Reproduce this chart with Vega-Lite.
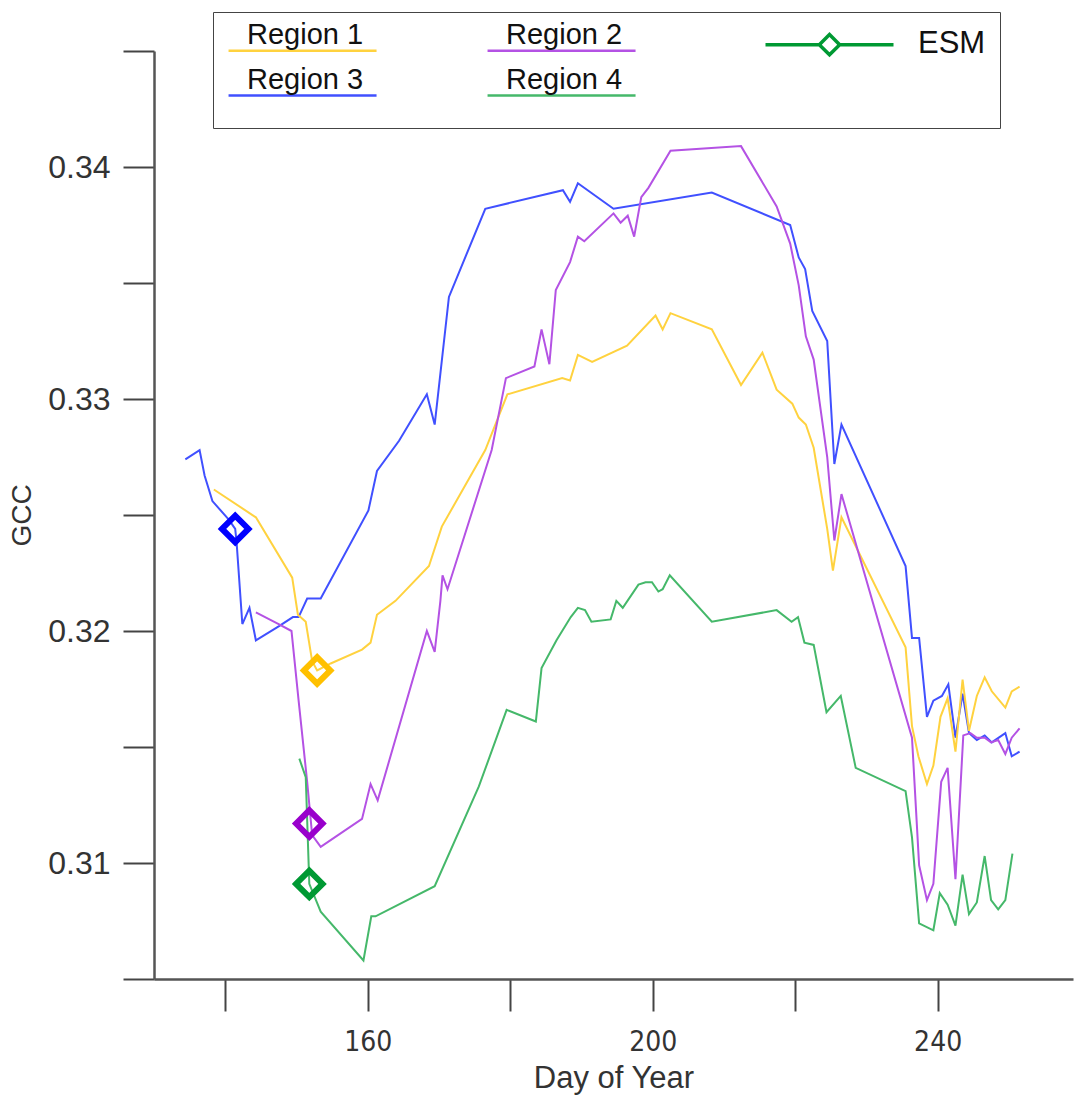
{
  "$schema": "https://vega.github.io/schema/vega-lite/v6.json",
  "width": 919,
  "height": 928,
  "autosize": "none",
  "padding": {"left": 154, "top": 51, "right": 1, "bottom": 116},
  "background": "white",
  "config": {"view": {"stroke": null}, "font": "Liberation Sans"},
  "datasets": {
    "lines": [
      {"region": "Region 3", "day": 134.4, "gcc": 0.3274},
      {"region": "Region 3", "day": 136.4, "gcc": 0.3278},
      {"region": "Region 3", "day": 137.1, "gcc": 0.3267},
      {"region": "Region 3", "day": 138.2, "gcc": 0.3256},
      {"region": "Region 3", "day": 140.5, "gcc": 0.3248},
      {"region": "Region 3", "day": 141.4, "gcc": 0.3244},
      {"region": "Region 3", "day": 141.6, "gcc": 0.3238},
      {"region": "Region 3", "day": 142.4, "gcc": 0.3203},
      {"region": "Region 3", "day": 143.4, "gcc": 0.3210},
      {"region": "Region 3", "day": 144.3, "gcc": 0.3196},
      {"region": "Region 3", "day": 147.5, "gcc": 0.3202},
      {"region": "Region 3", "day": 149.5, "gcc": 0.3206},
      {"region": "Region 3", "day": 150.3, "gcc": 0.3206},
      {"region": "Region 3", "day": 151.5, "gcc": 0.3214},
      {"region": "Region 3", "day": 153.4, "gcc": 0.3214},
      {"region": "Region 3", "day": 160.1, "gcc": 0.3252},
      {"region": "Region 3", "day": 161.3, "gcc": 0.3269},
      {"region": "Region 3", "day": 164.4, "gcc": 0.3282},
      {"region": "Region 3", "day": 168.3, "gcc": 0.3302},
      {"region": "Region 3", "day": 169.4, "gcc": 0.3289},
      {"region": "Region 3", "day": 171.4, "gcc": 0.3344},
      {"region": "Region 3", "day": 176.5, "gcc": 0.3382},
      {"region": "Region 3", "day": 187.4, "gcc": 0.3390},
      {"region": "Region 3", "day": 188.4, "gcc": 0.3385},
      {"region": "Region 3", "day": 189.5, "gcc": 0.3393},
      {"region": "Region 3", "day": 194.5, "gcc": 0.3382},
      {"region": "Region 3", "day": 208.3, "gcc": 0.3389},
      {"region": "Region 3", "day": 219.3, "gcc": 0.3375},
      {"region": "Region 3", "day": 220.5, "gcc": 0.3361},
      {"region": "Region 3", "day": 221.4, "gcc": 0.3356},
      {"region": "Region 3", "day": 222.4, "gcc": 0.3338},
      {"region": "Region 3", "day": 224.5, "gcc": 0.3325},
      {"region": "Region 3", "day": 225.5, "gcc": 0.3272},
      {"region": "Region 3", "day": 226.5, "gcc": 0.3289},
      {"region": "Region 3", "day": 235.5, "gcc": 0.3228},
      {"region": "Region 3", "day": 236.4, "gcc": 0.3197},
      {"region": "Region 3", "day": 237.4, "gcc": 0.3197},
      {"region": "Region 3", "day": 238.5, "gcc": 0.3163},
      {"region": "Region 3", "day": 239.4, "gcc": 0.3170},
      {"region": "Region 3", "day": 240.6, "gcc": 0.3172},
      {"region": "Region 3", "day": 241.5, "gcc": 0.3177},
      {"region": "Region 3", "day": 242.5, "gcc": 0.3154},
      {"region": "Region 3", "day": 243.5, "gcc": 0.3173},
      {"region": "Region 3", "day": 244.4, "gcc": 0.3156},
      {"region": "Region 3", "day": 245.5, "gcc": 0.3153},
      {"region": "Region 3", "day": 246.6, "gcc": 0.3155},
      {"region": "Region 3", "day": 247.6, "gcc": 0.3152},
      {"region": "Region 3", "day": 249.5, "gcc": 0.3156},
      {"region": "Region 3", "day": 250.4, "gcc": 0.3146},
      {"region": "Region 3", "day": 251.5, "gcc": 0.3148},
      {"region": "Region 1", "day": 138.4, "gcc": 0.3261},
      {"region": "Region 1", "day": 144.3, "gcc": 0.3249},
      {"region": "Region 1", "day": 149.4, "gcc": 0.3223},
      {"region": "Region 1", "day": 150.2, "gcc": 0.3207},
      {"region": "Region 1", "day": 151.3, "gcc": 0.3204},
      {"region": "Region 1", "day": 152.2, "gcc": 0.3187},
      {"region": "Region 1", "day": 152.9, "gcc": 0.3183},
      {"region": "Region 1", "day": 154.8, "gcc": 0.3186},
      {"region": "Region 1", "day": 159.2, "gcc": 0.3192},
      {"region": "Region 1", "day": 160.4, "gcc": 0.3195},
      {"region": "Region 1", "day": 161.3, "gcc": 0.3207},
      {"region": "Region 1", "day": 163.9, "gcc": 0.3213},
      {"region": "Region 1", "day": 168.6, "gcc": 0.3228},
      {"region": "Region 1", "day": 170.4, "gcc": 0.3245},
      {"region": "Region 1", "day": 176.5, "gcc": 0.3278},
      {"region": "Region 1", "day": 179.6, "gcc": 0.3302},
      {"region": "Region 1", "day": 187.3, "gcc": 0.3309},
      {"region": "Region 1", "day": 188.4, "gcc": 0.3308},
      {"region": "Region 1", "day": 189.5, "gcc": 0.3319},
      {"region": "Region 1", "day": 191.5, "gcc": 0.3316},
      {"region": "Region 1", "day": 196.4, "gcc": 0.3323},
      {"region": "Region 1", "day": 200.4, "gcc": 0.3336},
      {"region": "Region 1", "day": 201.4, "gcc": 0.3330},
      {"region": "Region 1", "day": 202.5, "gcc": 0.3337},
      {"region": "Region 1", "day": 208.3, "gcc": 0.3330},
      {"region": "Region 1", "day": 212.4, "gcc": 0.3306},
      {"region": "Region 1", "day": 215.4, "gcc": 0.3320},
      {"region": "Region 1", "day": 217.4, "gcc": 0.3304},
      {"region": "Region 1", "day": 219.6, "gcc": 0.3298},
      {"region": "Region 1", "day": 220.5, "gcc": 0.3292},
      {"region": "Region 1", "day": 221.5, "gcc": 0.3289},
      {"region": "Region 1", "day": 222.6, "gcc": 0.3279},
      {"region": "Region 1", "day": 224.5, "gcc": 0.3244},
      {"region": "Region 1", "day": 225.3, "gcc": 0.3226},
      {"region": "Region 1", "day": 226.5, "gcc": 0.3249},
      {"region": "Region 1", "day": 235.5, "gcc": 0.3193},
      {"region": "Region 1", "day": 236.4, "gcc": 0.3159},
      {"region": "Region 1", "day": 237.3, "gcc": 0.3146},
      {"region": "Region 1", "day": 238.5, "gcc": 0.3134},
      {"region": "Region 1", "day": 239.4, "gcc": 0.3142},
      {"region": "Region 1", "day": 240.4, "gcc": 0.3163},
      {"region": "Region 1", "day": 241.4, "gcc": 0.3171},
      {"region": "Region 1", "day": 242.5, "gcc": 0.3148},
      {"region": "Region 1", "day": 243.5, "gcc": 0.3179},
      {"region": "Region 1", "day": 244.4, "gcc": 0.3157},
      {"region": "Region 1", "day": 245.5, "gcc": 0.3172},
      {"region": "Region 1", "day": 246.6, "gcc": 0.3180},
      {"region": "Region 1", "day": 247.6, "gcc": 0.3174},
      {"region": "Region 1", "day": 249.5, "gcc": 0.3167},
      {"region": "Region 1", "day": 250.4, "gcc": 0.3174},
      {"region": "Region 1", "day": 251.5, "gcc": 0.3176},
      {"region": "Region 2", "day": 144.3, "gcc": 0.3208},
      {"region": "Region 2", "day": 147.5, "gcc": 0.3203},
      {"region": "Region 2", "day": 149.3, "gcc": 0.3200},
      {"region": "Region 2", "day": 150.3, "gcc": 0.3170},
      {"region": "Region 2", "day": 151.5, "gcc": 0.3135},
      {"region": "Region 2", "day": 152.2, "gcc": 0.3112},
      {"region": "Region 2", "day": 153.4, "gcc": 0.3107},
      {"region": "Region 2", "day": 159.2, "gcc": 0.3119},
      {"region": "Region 2", "day": 160.4, "gcc": 0.3134},
      {"region": "Region 2", "day": 161.4, "gcc": 0.3127},
      {"region": "Region 2", "day": 168.3, "gcc": 0.3200},
      {"region": "Region 2", "day": 169.4, "gcc": 0.3191},
      {"region": "Region 2", "day": 170.2, "gcc": 0.3213},
      {"region": "Region 2", "day": 170.5, "gcc": 0.3224},
      {"region": "Region 2", "day": 171.2, "gcc": 0.3218},
      {"region": "Region 2", "day": 177.4, "gcc": 0.3278},
      {"region": "Region 2", "day": 179.4, "gcc": 0.3309},
      {"region": "Region 2", "day": 183.4, "gcc": 0.3314},
      {"region": "Region 2", "day": 184.4, "gcc": 0.3330},
      {"region": "Region 2", "day": 185.5, "gcc": 0.3315},
      {"region": "Region 2", "day": 186.4, "gcc": 0.3347},
      {"region": "Region 2", "day": 188.4, "gcc": 0.3359},
      {"region": "Region 2", "day": 189.5, "gcc": 0.3370},
      {"region": "Region 2", "day": 190.4, "gcc": 0.3368},
      {"region": "Region 2", "day": 194.5, "gcc": 0.3380},
      {"region": "Region 2", "day": 195.5, "gcc": 0.3376},
      {"region": "Region 2", "day": 196.5, "gcc": 0.3379},
      {"region": "Region 2", "day": 197.4, "gcc": 0.3370},
      {"region": "Region 2", "day": 198.4, "gcc": 0.3387},
      {"region": "Region 2", "day": 199.4, "gcc": 0.3391},
      {"region": "Region 2", "day": 202.5, "gcc": 0.3407},
      {"region": "Region 2", "day": 212.4, "gcc": 0.3409},
      {"region": "Region 2", "day": 217.4, "gcc": 0.3383},
      {"region": "Region 2", "day": 219.3, "gcc": 0.3367},
      {"region": "Region 2", "day": 220.5, "gcc": 0.3349},
      {"region": "Region 2", "day": 221.5, "gcc": 0.3327},
      {"region": "Region 2", "day": 222.6, "gcc": 0.3317},
      {"region": "Region 2", "day": 224.5, "gcc": 0.3275},
      {"region": "Region 2", "day": 225.5, "gcc": 0.3239},
      {"region": "Region 2", "day": 226.5, "gcc": 0.3259},
      {"region": "Region 2", "day": 236.4, "gcc": 0.3154},
      {"region": "Region 2", "day": 237.4, "gcc": 0.3099},
      {"region": "Region 2", "day": 238.5, "gcc": 0.3084},
      {"region": "Region 2", "day": 239.4, "gcc": 0.3091},
      {"region": "Region 2", "day": 240.5, "gcc": 0.3135},
      {"region": "Region 2", "day": 241.4, "gcc": 0.3141},
      {"region": "Region 2", "day": 242.5, "gcc": 0.3093},
      {"region": "Region 2", "day": 243.6, "gcc": 0.3155},
      {"region": "Region 2", "day": 244.6, "gcc": 0.3156},
      {"region": "Region 2", "day": 245.5, "gcc": 0.3154},
      {"region": "Region 2", "day": 246.6, "gcc": 0.3154},
      {"region": "Region 2", "day": 247.5, "gcc": 0.3152},
      {"region": "Region 2", "day": 248.5, "gcc": 0.3153},
      {"region": "Region 2", "day": 249.5, "gcc": 0.3147},
      {"region": "Region 2", "day": 250.4, "gcc": 0.3154},
      {"region": "Region 2", "day": 251.5, "gcc": 0.3158},
      {"region": "Region 4", "day": 150.4, "gcc": 0.3145},
      {"region": "Region 4", "day": 151.3, "gcc": 0.3137},
      {"region": "Region 4", "day": 151.8, "gcc": 0.3091},
      {"region": "Region 4", "day": 153.4, "gcc": 0.3079},
      {"region": "Region 4", "day": 159.4, "gcc": 0.3058},
      {"region": "Region 4", "day": 160.5, "gcc": 0.3077},
      {"region": "Region 4", "day": 161.1, "gcc": 0.3077},
      {"region": "Region 4", "day": 169.4, "gcc": 0.3090},
      {"region": "Region 4", "day": 175.6, "gcc": 0.3133},
      {"region": "Region 4", "day": 179.5, "gcc": 0.3166},
      {"region": "Region 4", "day": 183.6, "gcc": 0.3161},
      {"region": "Region 4", "day": 184.4, "gcc": 0.3184},
      {"region": "Region 4", "day": 186.5, "gcc": 0.3196},
      {"region": "Region 4", "day": 188.5, "gcc": 0.3206},
      {"region": "Region 4", "day": 189.5, "gcc": 0.3210},
      {"region": "Region 4", "day": 190.5, "gcc": 0.3209},
      {"region": "Region 4", "day": 191.4, "gcc": 0.3204},
      {"region": "Region 4", "day": 194.1, "gcc": 0.3205},
      {"region": "Region 4", "day": 194.9, "gcc": 0.3213},
      {"region": "Region 4", "day": 195.8, "gcc": 0.3210},
      {"region": "Region 4", "day": 198.0, "gcc": 0.3220},
      {"region": "Region 4", "day": 199.0, "gcc": 0.3221},
      {"region": "Region 4", "day": 199.9, "gcc": 0.3221},
      {"region": "Region 4", "day": 200.8, "gcc": 0.3217},
      {"region": "Region 4", "day": 201.4, "gcc": 0.3218},
      {"region": "Region 4", "day": 202.4, "gcc": 0.3224},
      {"region": "Region 4", "day": 208.3, "gcc": 0.3204},
      {"region": "Region 4", "day": 217.4, "gcc": 0.3209},
      {"region": "Region 4", "day": 219.5, "gcc": 0.3204},
      {"region": "Region 4", "day": 220.4, "gcc": 0.3206},
      {"region": "Region 4", "day": 221.3, "gcc": 0.3195},
      {"region": "Region 4", "day": 222.6, "gcc": 0.3194},
      {"region": "Region 4", "day": 224.4, "gcc": 0.3165},
      {"region": "Region 4", "day": 226.4, "gcc": 0.3172},
      {"region": "Region 4", "day": 228.5, "gcc": 0.3141},
      {"region": "Region 4", "day": 235.5, "gcc": 0.3131},
      {"region": "Region 4", "day": 236.4, "gcc": 0.3111},
      {"region": "Region 4", "day": 237.4, "gcc": 0.3074},
      {"region": "Region 4", "day": 239.4, "gcc": 0.3071},
      {"region": "Region 4", "day": 240.3, "gcc": 0.3087},
      {"region": "Region 4", "day": 241.4, "gcc": 0.3082},
      {"region": "Region 4", "day": 242.5, "gcc": 0.3073},
      {"region": "Region 4", "day": 243.5, "gcc": 0.3095},
      {"region": "Region 4", "day": 244.4, "gcc": 0.3078},
      {"region": "Region 4", "day": 245.5, "gcc": 0.3083},
      {"region": "Region 4", "day": 246.6, "gcc": 0.3103},
      {"region": "Region 4", "day": 247.5, "gcc": 0.3084},
      {"region": "Region 4", "day": 248.5, "gcc": 0.3080},
      {"region": "Region 4", "day": 249.5, "gcc": 0.3084},
      {"region": "Region 4", "day": 250.5, "gcc": 0.3104}
    ],
    "esm": [
      {"region": "Region 3", "day": 141.4, "gcc": 0.3244},
      {"region": "Region 1", "day": 152.9, "gcc": 0.3183},
      {"region": "Region 2", "day": 151.8, "gcc": 0.3117},
      {"region": "Region 4", "day": 151.8, "gcc": 0.3091}
    ]
  },
  "layer": [
    {
      "data": {"name": "lines"},
      "mark": {"type": "line", "strokeWidth": 2, "clip": true},
      "encoding": {
        "x": {
          "field": "day", "type": "quantitative",
          "scale": {"domain": [130, 259], "nice": false, "zero": false},
          "axis": {
            "values": [140, 160, 180, 200, 220, 240],
            "labelExpr": "datum.value % 40 === 0 ? datum.label : ''",
            "title": "Day of Year",
            "grid": false,
            "tickSize": 32, "tickWidth": 2, "tickColor": "#444",
            "domainColor": "#555", "domainWidth": 2.5,
            "labelFontSize": 28, "labelColor": "#333", "labelPadding": 17,
            "labelFont": "Liberation Sans Narrow, DejaVu Sans Condensed, Liberation Sans",
            "labelOverlap": false, "labelFlush": false,
            "titleFontSize": 31, "titleFontWeight": "normal", "titleColor": "#333",
            "titleFont": "Liberation Sans", "titleY": 84, "titleBaseline": "top",
            "encode": {"ticks": {"update": {"y2": {"signal": "datum.value % 40 === 0 ? 32 : 16"}}}}
          }
        },
        "y": {
          "field": "gcc", "type": "quantitative",
          "scale": {"domain": [0.305, 0.345], "nice": false, "zero": false},
          "axis": {
            "values": [0.305, 0.31, 0.315, 0.32, 0.325, 0.33, 0.335, 0.34, 0.345],
            "labelExpr": "round(datum.value * 1000) % 10 === 0 ? format(datum.value, '.2f') : ''",
            "title": "GCC",
            "grid": false,
            "tickSize": 31, "tickWidth": 2, "tickColor": "#444",
            "domainColor": "#555", "domainWidth": 2.5,
            "labelFontSize": 32, "labelColor": "#333", "labelPadding": 13,
            "labelFont": "Liberation Sans", "labelOverlap": false, "labelFlush": false,
            "titleFontSize": 28, "titleFontWeight": "normal", "titleColor": "#333",
            "titleFont": "Liberation Sans", "titleAngle": -90, "titleBaseline": "bottom",
            "titleAlign": "center", "titleX": -118, "titleY": 464,
            "encode": {"ticks": {"update": {"x2": {"signal": "round(datum.value * 1000) % 10 === 0 ? -31 : -16"}}}}
          }
        },
        "color": {
          "field": "region", "type": "nominal",
          "scale": {
            "domain": ["Region 1", "Region 3", "Region 2", "Region 4", "ESM"],
            "range": ["#FFD23F", "#4050FF", "#B452E4", "#45B86A", "#009933"]
          },
          "legend": {
            "orient": "none", "legendX": 59, "legendY": -39,
            "columns": 3, "title": " ", "titleOrient": "bottom", "titleFontSize": 12, "titlePadding": 2,
            "symbolType": "M-0.7,0H7.3", "symbolSize": 1369, "symbolStrokeWidth": 2.5,
            "labelOffset": -9, "labelFontSize": 29, "labelFont": "Liberation Sans",
            "labelColor": "#111", "labelBaseline": "bottom", "labelLimit": 300,
            "strokeColor": "#444", "padding": 14, "rowPadding": 3, "columnPadding": 100,
            "encode": {
              "symbols": {"update": {
                "shape": {"signal": "datum.value === 'ESM' ? 'M0.54,0H3.45M4.55,0H7.46M4.0,-0.55L4.55,0L4.0,0.55L3.45,0Z' : 'M-0.7,0H7.3'"},
                "strokeWidth": {"signal": "datum.value === 'ESM' ? 3.5 : 2.5"},
                "y": {"field": "size", "mult": 0.5, "offset": 4}
              }},
              "labels": {"update": {
                "dx": {"signal": "datum.value === 'ESM' ? 157 : 0"},
                "y": {"field": "size", "mult": 0.5, "offset": 3},
                "fontSize": {"signal": "datum.value === 'ESM' ? 31 : 29"},
                "baseline": {"signal": "datum.value === 'ESM' ? 'middle' : 'bottom'"}
              }}
            }
          }
        }
      }
    },
    {
      "data": {"name": "esm"},
      "mark": {"type": "point", "shape": "diamond", "filled": false, "size": 700, "strokeWidth": 6, "opacity": 1},
      "encoding": {
        "x": {"field": "day", "type": "quantitative"},
        "y": {"field": "gcc", "type": "quantitative"},
        "stroke": {
          "field": "region", "type": "nominal",
          "scale": {
            "domain": ["Region 1", "Region 2", "Region 3", "Region 4"],
            "range": ["#FFC000", "#9900CC", "#0000FF", "#009933"]
          },
          "legend": null
        }
      }
    }
  ]
}
